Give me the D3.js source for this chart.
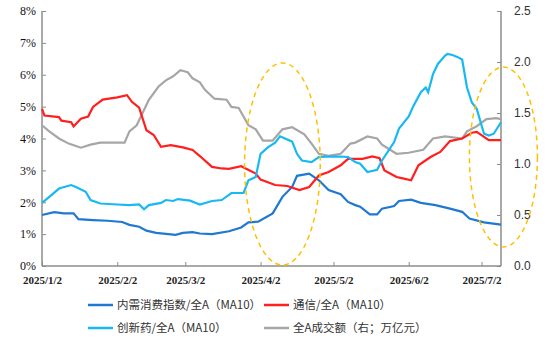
<!DOCTYPE html>
<html><head><meta charset="utf-8">
<script src="https://cdn.jsdelivr.net/npm/d3@7"></script>
<style>body{margin:0;background:#fff}svg{display:block}</style>
</head><body>
<script>
// ---- data ----
const xTicks = ["2025-01-02","2025-02-02","2025-03-02","2025-04-02","2025-05-02","2025-06-02","2025-07-02"];
const xTickLabels = ["2025/1/2","2025/2/2","2025/3/2","2025/4/2","2025/5/2","2025/6/2","2025/7/2"];
const leftTicks = [0,1,2,3,4,5,6,7,8];
const rightTicks = [0,0.5,1.0,1.5,2.0,2.5];
const seriesNames = ["内需消费指数/全A（MA10）","通信/全A（MA10）","创新药/全A（MA10）","全A成交额（右；万亿元）"];

const consumerDates = ["01-02","01-07","01-11","01-15","01-17","01-23","01-29","02-04","02-07","02-11","02-14","02-18","02-22","02-26","03-01","03-05","03-08","03-13","03-20","03-25","03-28","04-01","04-07","04-11","04-15","04-17","04-22","04-26","04-30","05-05","05-08","05-11","05-13","05-17","05-20","05-22","05-27","05-29","06-03","06-07","06-13","06-19","06-24","06-27","07-03","07-10"];
const consumerValues = [1.60,1.69,1.65,1.65,1.47,1.44,1.42,1.38,1.29,1.23,1.11,1.04,1.01,0.98,1.04,1.06,1.02,1.00,1.09,1.21,1.37,1.39,1.65,2.17,2.48,2.83,2.90,2.69,2.38,2.25,2.01,1.91,1.86,1.62,1.62,1.80,1.88,2.04,2.08,1.98,1.91,1.80,1.70,1.49,1.37,1.30];

const telecomDates = ["01-02","01-03","01-09","01-10","01-14","01-15","01-18","01-21","01-23","01-27","02-02","02-06","02-08","02-11","02-14","02-17","02-20","02-24","03-01","03-05","03-08","03-13","03-17","03-20","03-25","03-31","04-02","04-08","04-13","04-18","04-22","04-26","04-30","05-05","05-08","05-11","05-14","05-18","05-21","05-23","05-28","05-31","06-03","06-06","06-11","06-15","06-19","06-24","06-28","06-30","07-05","07-10"];
const telecomValues = [4.93,4.72,4.67,4.56,4.51,4.38,4.62,4.69,4.99,5.22,5.29,5.36,5.15,4.97,4.26,4.11,3.74,3.79,3.72,3.64,3.45,3.11,3.06,3.05,3.13,2.90,2.71,2.54,2.51,2.38,2.48,2.84,2.95,3.16,3.36,3.36,3.36,3.44,3.38,3.00,2.79,2.74,2.69,3.16,3.42,3.58,3.92,4.00,4.18,4.21,3.95,3.95];

const pharmaDates = ["01-02","01-05","01-09","01-14","01-16","01-20","01-22","01-26","02-02","02-07","02-11","02-13","02-15","02-20","02-22","02-25","02-27","03-04","03-08","03-13","03-17","03-21","03-26","03-28","03-31","04-02","04-05","04-08","04-10","04-15","04-17","04-19","04-23","04-26","05-03","05-08","05-11","05-13","05-16","05-20","05-22","05-27","05-29","06-02","06-04","06-07","06-09","06-10","06-12","06-14","06-17","06-18","06-20","06-22","06-24","06-26","06-28","06-30","07-03","07-05","07-07","07-10"];
const pharmaValues = [1.98,2.17,2.43,2.54,2.48,2.33,2.07,1.96,1.93,1.91,1.93,1.78,1.91,1.98,2.07,2.04,2.10,2.05,1.93,2.04,2.07,2.29,2.29,2.69,2.79,3.52,3.72,3.87,4.07,3.90,3.52,3.31,3.26,3.42,3.44,3.42,3.26,3.21,2.95,3.02,3.31,3.89,4.31,4.69,5.03,5.45,5.60,5.45,6.02,6.34,6.60,6.65,6.62,6.56,6.48,5.60,5.13,4.93,4.15,4.09,4.15,4.51];

const turnoverDates = ["01-02","01-05","01-09","01-13","01-18","01-22","01-26","01-31","02-05","02-07","02-10","02-13","02-15","02-19","02-22","02-25","02-28","03-03","03-05","03-08","03-10","03-14","03-19","03-21","03-24","03-28","03-31","04-03","04-07","04-11","04-15","04-20","04-23","04-26","04-30","05-05","05-09","05-11","05-16","05-20","05-22","05-28","06-02","06-08","06-12","06-17","06-24","06-26","06-30","07-04","07-08","07-10"];
const turnoverValues = [1.38,1.32,1.25,1.20,1.16,1.19,1.21,1.21,1.21,1.32,1.38,1.53,1.63,1.76,1.82,1.86,1.92,1.90,1.84,1.80,1.73,1.64,1.63,1.56,1.55,1.38,1.34,1.23,1.23,1.34,1.36,1.29,1.20,1.10,1.08,1.10,1.20,1.21,1.27,1.25,1.19,1.10,1.11,1.14,1.25,1.27,1.25,1.32,1.37,1.44,1.45,1.44];

// highlighted regions (center date, center % on left axis, half-width days, half-height %)
const highlights = [
  {center:"2025-04-11", value:3.2, halfDays:15.6, halfPct:3.17},
  {center:"2025-07-11", value:3.42, halfDays:14, halfPct:2.82}
];

// ---- drawing ----
const W = 550, H = 360;
const colors = ["#1f78d1","#ff1f1f","#18b9f2","#a6a6a6"];
const parse = d3.timeParse("%Y-%m-%d");
const pd = s => parse("2025-" + s);

const svg = d3.select("body").append("svg").attr("width", W).attr("height", H);

const x = d3.scaleTime().domain([parse("2025-01-02"), parse("2025-07-10")]).range([42, 501]);
const yL = d3.scaleLinear().domain([0, 8]).range([266, 11]);
const yR = d3.scaleLinear().domain([0, 2.5]).range([266, 11]);

const axisColor = "#8c8c8c";

// left axis
const gL = svg.append("g").attr("transform", "translate(42,0)")
  .call(d3.axisRight(yL).tickValues(leftTicks).tickSize(4).tickFormat(d => d + "%"));
gL.select(".domain").attr("stroke", axisColor).attr("stroke-width", 1.5).attr("d", "M0,11V266");
gL.selectAll(".tick line").attr("stroke", axisColor);
gL.selectAll(".tick text").attr("x", -6).attr("text-anchor", "end")
  .attr("font-family", "Liberation Serif").attr("font-size", 12).attr("fill", "#111");

// right axis
const gR = svg.append("g").attr("transform", "translate(501,0)")
  .call(d3.axisLeft(yR).tickValues(rightTicks).tickSize(4).tickFormat(d3.format(".1f")));
gR.select(".domain").attr("stroke", axisColor).attr("stroke-width", 1.5).attr("d", "M0,11V266");
gR.selectAll(".tick line").attr("stroke", axisColor);
gR.selectAll(".tick text").attr("x", 13).attr("text-anchor", "start")
  .attr("font-family", "Liberation Sans").attr("font-size", 12).attr("fill", "#333");

// bottom axis
const gX = svg.append("g").attr("transform", "translate(0,266)")
  .call(d3.axisTop(x).tickValues(xTicks.map(s => parse(s))).tickSize(4)
    .tickFormat((d, i) => xTickLabels[i]));
gX.select(".domain").attr("stroke", axisColor).attr("stroke-width", 1.5).attr("d", "M42,0H501");
gX.selectAll(".tick line").attr("stroke", axisColor);
gX.selectAll(".tick text").attr("y", 18).attr("dy", "0").attr("font-family", "Liberation Serif")
  .attr("font-size", 11).attr("font-weight", "bold").attr("fill", "#222");

// lines
const lineL = d3.line().x(d => x(d[0])).y(d => yL(d[1]));
const lineR = d3.line().x(d => x(d[0])).y(d => yR(d[1]));
const zip = (ds, vs) => ds.map((d, i) => [pd(d), vs[i]]);

svg.append("path").datum(zip(turnoverDates, turnoverValues)).attr("d", lineR)
  .attr("fill", "none").attr("stroke", colors[3]).attr("stroke-width", 2.2);
svg.append("path").datum(zip(consumerDates, consumerValues)).attr("d", lineL)
  .attr("fill", "none").attr("stroke", colors[0]).attr("stroke-width", 2.2);
svg.append("path").datum(zip(telecomDates, telecomValues)).attr("d", lineL)
  .attr("fill", "none").attr("stroke", colors[1]).attr("stroke-width", 2.2);
svg.append("path").datum(zip(pharmaDates, pharmaValues)).attr("d", lineL)
  .attr("fill", "none").attr("stroke", colors[2]).attr("stroke-width", 2.2);

// highlight ellipses
highlights.forEach(h => {
  const c = parse(h.center);
  const cx = x(c);
  const rx = x(d3.timeHour.offset(c, h.halfDays * 24)) - cx;
  const cy = yL(h.value);
  const ry = yL(h.value - h.halfPct) - cy;
  svg.append("ellipse").attr("cx", cx).attr("cy", cy).attr("rx", rx).attr("ry", ry)
    .attr("fill", "none").attr("stroke", "#ffc000").attr("stroke-width", 1.5)
    .attr("stroke-dasharray", "5,4");
});

// legend
const legendPos = [[88,305],[264,305],[88,328],[264,328]];
seriesNames.forEach((name, i) => {
  const [lx, ly] = legendPos[i];
  svg.append("line").attr("x1", lx).attr("x2", lx + 25).attr("y1", ly).attr("y2", ly)
    .attr("stroke", colors[i]).attr("stroke-width", 2.5);
  svg.append("text").attr("x", lx + 29).attr("y", ly).attr("dy", "0.35em")
    .attr("font-family", "Noto Sans CJK SC").attr("font-size", 11.5).attr("fill", "#333")
    .text(name);
});
</script>
</body></html>
